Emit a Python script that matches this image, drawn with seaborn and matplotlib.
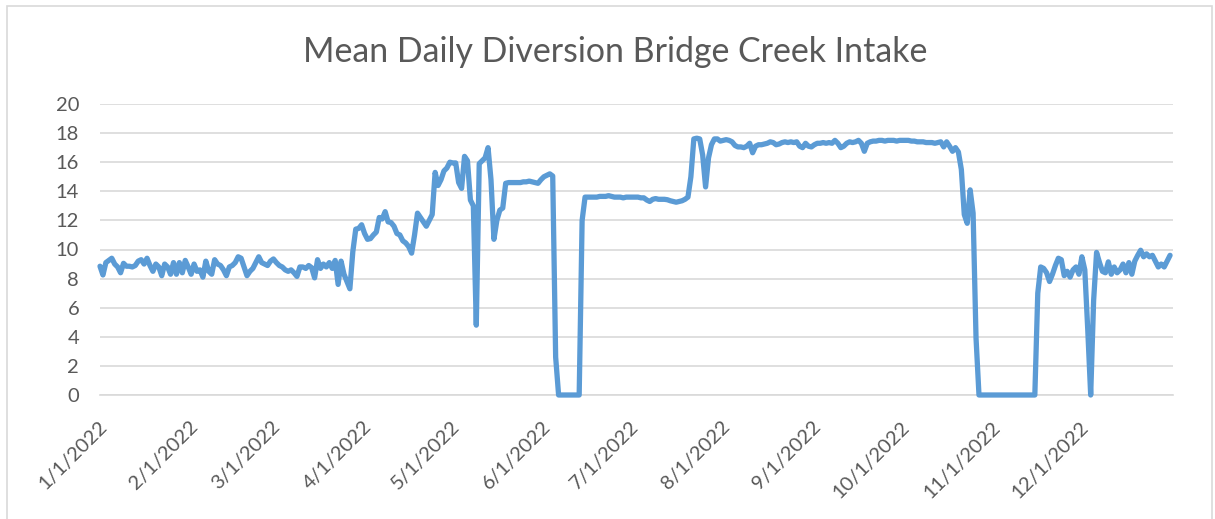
import matplotlib
matplotlib.use("Agg")
import matplotlib.pyplot as plt
from matplotlib.patches import Rectangle
import matplotlib.transforms as mtransforms
import numpy as np
import pandas as pd
import seaborn as sns

# ---------------- data (mean daily diversion) ----------------
title = "Mean Daily Diversion Bridge Creek Intake"
start_date = "2022-01-01"

jan = [8.85, 8.25, 9.1, 9.25, 9.4, 9.0, 8.8, 8.4, 9.05, 8.85,
       8.85, 8.8, 8.9, 9.2, 9.3, 9.0, 9.4, 8.9, 8.5, 9.0,
       8.8, 8.2, 9.0, 8.8, 8.3, 9.1, 8.3, 9.1, 8.4, 9.25,
       8.8]
feb = [8.3, 9.0, 8.5, 8.6, 8.1, 9.2, 8.5, 8.3, 9.3, 9.0,
       8.9, 8.6, 8.2, 8.8, 8.9, 9.1, 9.5, 9.4, 8.8, 8.2,
       8.5, 8.7, 9.1, 9.5, 9.1, 9.0, 8.9, 9.2]
mar = [9.35, 9.1, 8.9, 8.8, 8.6, 8.5, 8.6, 8.4, 8.15, 8.8,
       8.8, 8.7, 8.9, 8.75, 8.05, 9.3, 8.7, 9.0, 8.8, 9.1,
       8.7, 9.25, 7.6, 9.2, 8.3, 7.8, 7.3, 9.85, 11.4, 11.45,
       11.7]
apr = [11.1, 10.7, 10.75, 11.0, 11.2, 12.2, 12.1, 12.6, 11.9, 11.85,
       11.6, 11.1, 11.0, 10.6, 10.45, 10.2, 9.75, 11.0, 12.5, 12.2,
       11.9, 11.6, 12.0, 12.4, 15.3, 14.4, 14.8, 15.4, 15.6, 16.0]
may = [15.95, 15.95, 14.6, 14.2, 16.4, 16.1, 13.4, 13.0, 4.8, 15.9,
       16.1, 16.3, 17.0, 14.8, 10.7, 12.0, 12.7, 12.85, 14.55, 14.6,
       14.6, 14.6, 14.6, 14.6, 14.65, 14.65, 14.7, 14.65, 14.6, 14.55,
       14.8]
jun = [15.0, 15.1, 15.2, 15.05, 2.6, 0, 0, 0, 0, 0,
       0, 0, 0, 12.0, 13.6, 13.6, 13.6, 13.6, 13.6, 13.65,
       13.65, 13.65, 13.7, 13.65, 13.6, 13.6, 13.6, 13.55, 13.6, 13.6]
jul = [13.6, 13.6, 13.6, 13.55, 13.55, 13.4, 13.3, 13.45, 13.5, 13.45,
       13.45, 13.45, 13.42, 13.35, 13.3, 13.25, 13.3, 13.35, 13.45, 13.6,
       15.0, 17.6, 17.65, 17.6, 16.5, 14.3, 16.3, 17.2, 17.6, 17.6,
       17.45]
aug = [17.5, 17.55, 17.5, 17.4, 17.15, 17.05, 17.05, 17.0, 17.1, 17.3,
       16.65, 17.1, 17.2, 17.2, 17.25, 17.3, 17.4, 17.35, 17.2, 17.25,
       17.35, 17.4, 17.35, 17.4, 17.35, 17.4, 17.1, 17.0, 17.3, 17.1,
       17.05]
sep = [17.2, 17.3, 17.3, 17.35, 17.3, 17.35, 17.3, 17.5, 17.3, 17.0,
       17.1, 17.3, 17.4, 17.35, 17.4, 17.5, 17.3, 16.75, 17.3, 17.4,
       17.45, 17.45, 17.5, 17.5, 17.45, 17.5, 17.5, 17.5, 17.45, 17.5]
oct_ = [17.5, 17.5, 17.5, 17.45, 17.45, 17.4, 17.4, 17.4, 17.35, 17.35,
        17.35, 17.3, 17.35, 17.4, 17.05, 17.4, 17.1, 16.75, 17.0, 16.7,
        15.5, 12.4, 11.8, 14.1, 12.5, 3.9, 0, 0, 0, 0,
        0]
nov = [0, 0, 0, 0, 0, 0, 0, 0, 0, 0,
       0, 0, 0, 0, 0, 7.0, 8.8, 8.7, 8.4, 7.8,
       8.3, 8.9, 9.4, 9.3, 8.2, 8.5, 8.1, 8.6, 8.8, 8.3]
dec = [9.5, 8.6, 4.5, 0, 6.5, 9.8, 9.1, 8.5, 8.4, 9.15,
       8.3, 8.8, 8.4, 8.6, 9.0, 8.4, 9.1, 8.3, 9.2, 9.6,
       9.95, 9.5, 9.7, 9.5, 9.6, 9.2, 8.8, 9.0, 8.8, 9.2,
       9.6]

tick_dates = ["2022-01-01", "2022-02-01", "2022-03-01", "2022-04-01", "2022-05-01",
              "2022-06-01", "2022-07-01", "2022-08-01", "2022-09-01", "2022-10-01",
              "2022-11-01", "2022-12-01", "2023-01-01"]
tick_labels = ["1/1/2022", "2/1/2022", "3/1/2022", "4/1/2022", "5/1/2022", "6/1/2022",
               "7/1/2022", "8/1/2022", "9/1/2022", "10/1/2022", "11/1/2022", "12/1/2022", ""]
y_ticks = [0, 2, 4, 6, 8, 10, 12, 14, 16, 18, 20]

values = jan + feb + mar + apr + may + jun + jul + aug + sep + oct_ + nov + dec
dates = pd.date_range(start_date, periods=len(values), freq="D")
df = pd.DataFrame({"date": dates, "value": values})

# ---------------- styling ----------------
sns.set_style("white")
plt.rcParams["font.family"] = ["Lato", "DejaVu Sans"]
grey_text = "#595959"
grid_col = "#D9D9D9"
line_col = "#5B9BD5"

fig = plt.figure(figsize=(12.15, 5.19), dpi=100)
ax = fig.add_axes([100 / 1215, 1 - 395 / 519, (1173 - 100) / 1215, (395 - 104) / 519])

sns.lineplot(data=df, x="date", y="value", ax=ax, color=line_col, linewidth=3.8,
             solid_joinstyle="round", solid_capstyle="round", clip_on=False, zorder=5)

ax.set_xlim(pd.Timestamp(tick_dates[0]), pd.Timestamp(tick_dates[-1]))
ax.set_ylim(0, 20)
ax.set_yticks(y_ticks)
ax.set_yticklabels([str(v) for v in y_ticks], fontsize=14.5, color=grey_text)
ax.set_xticks([pd.Timestamp(d) for d in tick_dates])
ax.set_xticklabels(tick_labels, fontsize=14.5, color=grey_text, rotation=45,
                   ha="right", va="center", rotation_mode="anchor")
ax.set_xlabel("")
ax.set_ylabel("")

ax.yaxis.grid(True, color=grid_col, lw=1.2)
ax.set_axisbelow(True)
for s in ["top", "right", "left"]:
    ax.spines[s].set_visible(False)
ax.spines["bottom"].set_color(grid_col)
ax.spines["bottom"].set_linewidth(1.2)
ax.tick_params(axis="y", length=0, pad=15)
ax.tick_params(axis="x", length=4, width=1.2, color=grid_col, pad=17, direction="out")

shift = mtransforms.ScaledTranslation(4 / 100, 0, fig.dpi_scale_trans)
for lab in ax.get_xticklabels():
    lab.set_transform(lab.get_transform() + shift)

fig.text(0.506, 1 - 62 / 519, title, ha="center", va="baseline",
         fontsize=24.4, color=grey_text)

fig.patches.append(Rectangle((7 / 1215, -0.02), (1212 - 7) / 1215, 1 - 6 / 519 + 0.02,
                             transform=fig.transFigure, fill=False,
                             edgecolor=grid_col, lw=1.2))

fig.savefig("out.png", dpi=100)
